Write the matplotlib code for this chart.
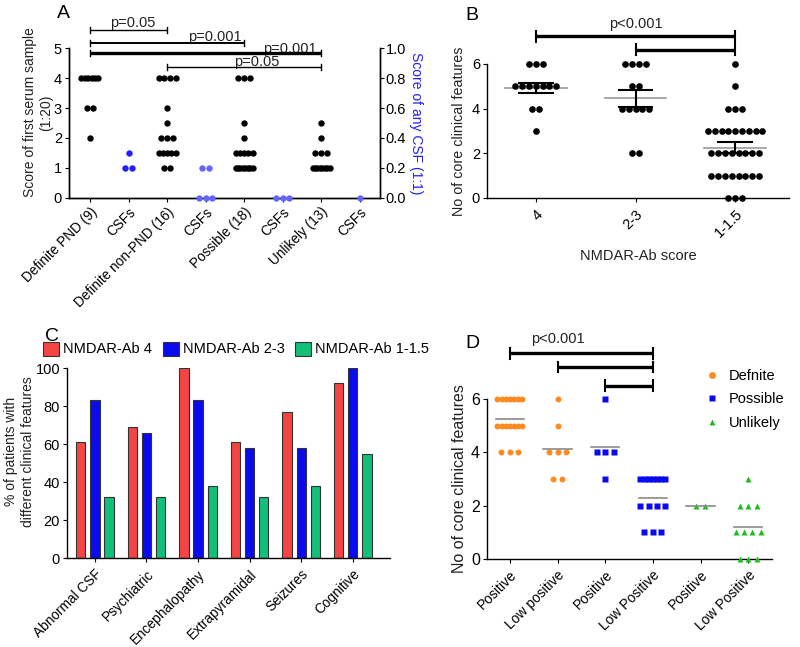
import numpy as np
import matplotlib
matplotlib.use('Agg')
import matplotlib.pyplot as plt
from matplotlib.patches import Patch
from matplotlib.lines import Line2D

plt.rcParams['font.family'] = ['Liberation Sans', 'DejaVu Sans']
plt.rcParams['font.size'] = 9
plt.rcParams['axes.linewidth'] = 1.0
plt.rcParams['xtick.major.size'] = 3
plt.rcParams['ytick.major.size'] = 3

W, H = 800, 647

# ---------------- Data ----------------
# Panel A
a_labels = ['Definite PND (9)', 'CSFs', 'Definite non-PND (16)', 'CSFs',
            'Possible (18)', 'CSFs', 'Unlikely (13)', 'CSFs']
a_def_pnd = [4, 4, 4, 4, 4, 4, 3, 3, 2]
a_def_non = [4, 4, 4, 4, 3, 2.5, 2, 2, 2, 1.5, 1.5, 1.5, 1.5, 1.5, 1, 1]
a_possible = [4, 4, 4, 2.5, 2, 1.5, 1.5, 1.5, 1.5, 1.5, 1, 1, 1, 1, 1, 1, 1, 1]
a_unlikely = [2.5, 2, 1.5, 1.5, 1.5, 1, 1, 1, 1, 1, 1, 1, 1]
a_csf_pnd = [0.3, 0.2, 0.2]
a_csf_non = [0.2, 0.2, 0.0, 0.0, 0.0]
a_csf_pos = [0.0, 0.0, 0.0]
a_csf_unl = [0.0]
a_pvals = ['p=0.05', 'p=0.001', 'p=0.001', 'p=0.05']

# Panel B
b_labels = ['4', '2-3', '1-1.5']
b_score4 = [6, 6, 6, 5, 5, 5, 5, 5, 5, 5, 4, 4, 3]
b_score23 = [6, 6, 6, 6, 5, 5, 4, 4, 4, 4, 4, 2, 2]
b_score115 = [6, 5, 4, 4, 4, 3, 3, 3, 3, 3, 3, 3, 3, 3,
              2, 2, 2, 2, 2, 2, 2, 2, 1, 1, 1, 1, 1, 1, 1, 1, 0, 0, 0]

# Panel C
c_features = ['Abnormal CSF', 'Psychiatric', 'Encephalopathy',
              'Extrapyramidal', 'Seizures', 'Cognitive']
c_series = ['NMDAR-Ab 4', 'NMDAR-Ab 2-3', 'NMDAR-Ab 1-1.5']
c_ab4 = [61, 69, 100, 61, 77, 92]
c_ab23 = [83, 66, 83, 58, 58, 100]
c_ab115 = [32, 32, 38, 32, 38, 55]

# Panel D
d_labels = ['Positive', 'Low positive', 'Positive', 'Low Positive',
            'Positive', 'Low Positive']
d_legend = ['Defnite', 'Possible', 'Unlikely']
d_def_pos = [6, 6, 6, 6, 6, 6, 6, 5, 5, 5, 5, 5, 5, 5, 4, 4, 4]
d_def_low = [6, 5, 4, 4, 4, 3, 3]
d_pos_pos = [6, 4, 4, 4, 3]
d_pos_low = [3, 3, 3, 3, 3, 3, 3, 2, 2, 2, 2, 1, 1, 1]
d_unl_pos = [2, 2]
d_unl_low = [3, 2, 2, 2, 1, 1, 1, 1, 0, 0, 0]


def swarm(values, center, spacing, cap):
    values = np.asarray(values, dtype=float)
    xs = np.zeros_like(values)
    for v in np.unique(values):
        idx = np.where(values == v)[0]
        n = len(idx)
        s = spacing if n == 1 else min(spacing, cap / (n - 1))
        xs[idx] = center + (np.arange(n) - (n - 1) / 2) * s
    return xs, values


def fax(l, r, b, t):
    return fig.add_axes([l / W, 1 - b / H, (r - l) / W, (b - t) / H])


def rot_labels(ax, labels, fs=9):
    ax.set_xticklabels(labels, rotation=45, ha='right', rotation_mode='anchor', fontsize=fs)


TXT = '#222222'
fig = plt.figure(figsize=(8, 6.47), dpi=100)

# ---------------- Panel A ----------------
axA = fax(69, 380, 198, 48)
pxA = 38.5  # px per category
axA.set_xlim(-0.545, 7.53)
axA.set_ylim(0, 5)
axA2 = axA.twinx()
axA2.set_ylim(0, 1.0)
black_groups = [(0, a_def_pnd), (2, a_def_non), (4, a_possible), (6, a_unlikely)]
for pos, vals in black_groups:
    x, y = swarm(vals, pos, 6 / pxA, 17 / pxA)
    axA.plot(x, y, 'o', color='black', ms=4.6, mec='none', clip_on=False, zorder=3)
csf_groups = [(1, a_csf_pnd, '#1f1fff'), (3, a_csf_non, '#6464ff'),
              (5, a_csf_pos, '#6464ff'), (7, a_csf_unl, '#6464ff')]
for pos, vals, col in csf_groups:
    x, y = swarm(vals, pos, 6.5 / pxA, 17 / pxA)
    axA2.plot(x, y, 'o', color=col, ms=4.6, mec='none', clip_on=False, zorder=3)
axA.set_xticks(range(8))
rot_labels(axA, a_labels, 9.8)
axA.set_yticks(range(6))
axA.tick_params(axis='y', labelsize=10.5, pad=2)
axA.tick_params(axis='x', pad=2)
axA2.set_yticks(np.arange(0, 1.01, 0.2))
axA2.set_yticklabels(['%.1f' % v for v in np.arange(0, 1.01, 0.2)], fontsize=10.5)
axA2.tick_params(axis='y', pad=1)
axA.spines['top'].set_visible(False)
axA2.spines['top'].set_visible(False)
axA.set_ylabel('Score of first serum sample\n(1:20)', fontsize=10, color=TXT)
axA.yaxis.set_label_coords(-0.05, 0.57)
axA2.set_ylabel('Score of any CSF (1:1)', rotation=270, color='#2222ee', fontsize=10, labelpad=12)

u = 1 / 30.1
sig_A = [(0, 2, 5.60, 1.0, 1.12, 5.83, a_pvals[0]),
         (0, 4, 5.18, 1.4, 3.25, 5.38, a_pvals[1]),
         (0, 6, 4.84, 2.4, 5.2, 4.98, a_pvals[2]),
         (2, 6, 4.36, 1.0, 4.34, 4.52, a_pvals[3])]
for x0, x1, yy, lw, tx, ty, txt in sig_A:
    axA.plot([x0, x1], [yy, yy], color='black', lw=lw, clip_on=False, zorder=4,
             solid_capstyle='butt')
    for xe in (x0, x1):
        axA.plot([xe, xe], [yy - 3 * u, yy + 3 * u], color='black', lw=1.0, clip_on=False)
    axA.text(tx, ty, txt, ha='center', va='center', fontsize=10.5, color=TXT)

# ---------------- Panel B ----------------
axB = fax(487, 789, 198, 64)
pxB = 99.5
axB.set_xlim(-0.49, 2.54)
axB.set_ylim(0, 6)
for pos, vals in enumerate([b_score4, b_score23, b_score115]):
    x, y = swarm(vals, pos, 6.8 / pxB, 100 / pxB)
    axB.plot(x, y, 'o', color='black', ms=4.8, mec='none', clip_on=False, zorder=3)
    m = np.mean(vals)
    sem = np.std(vals, ddof=1) / np.sqrt(len(vals))
    axB.plot([pos - 0.31, pos + 0.31], [m, m], color='#999999', lw=1.2, zorder=2)
    axB.plot([pos, pos], [m - sem, m + sem], color='black', lw=1.5, zorder=4)
    for yy in (m - sem, m + sem):
        axB.plot([pos - 0.17, pos + 0.17], [yy, yy], color='black', lw=1.5, zorder=4)
axB.set_xticks(range(3))
rot_labels(axB, b_labels, 10.5)
axB.set_yticks([0, 2, 4, 6])
axB.tick_params(axis='y', labelsize=10.5, pad=2)
axB.spines['top'].set_visible(False)
axB.spines['right'].set_visible(False)
axB.set_ylabel('No of core clinical features', fontsize=10.3, labelpad=4, color=TXT)
axB.set_xlabel('NMDAR-Ab score', fontsize=10.5, labelpad=6, color=TXT)
uB = 1 / 22.33
for x0, yy in [(0, 7.25), (1, 6.63)]:
    axB.plot([x0, 2], [yy, yy], color='black', lw=2.4, clip_on=False, solid_capstyle='butt')
    for xe in (x0, 2):
        axB.plot([xe, xe], [yy - 5.5 * uB, yy + 5.5 * uB], color='black', lw=1.5, clip_on=False)
axB.text(1.0, 7.8, 'p<0.001', ha='center', va='center', fontsize=10.5, color=TXT)

# ---------------- Panel C ----------------
axC = fax(67, 390, 558, 368)
axC.set_xlim(-0.54, 5.72)
axC.set_ylim(0, 100)
xc = np.arange(len(c_features))
cols = ['#f44444', '#0a0aee', '#12c07a']
for k, (vals, col, name) in enumerate(zip([c_ab4, c_ab23, c_ab115], cols, c_series)):
    axC.bar(xc + (k - 1) * 0.275, vals, width=0.18, color=col, edgecolor='#333333',
            linewidth=0.8, label=name, zorder=2)
axC.set_xticks(xc)
rot_labels(axC, c_features, 9.8)
axC.set_yticks(range(0, 101, 20))
axC.tick_params(axis='y', labelsize=10.5, pad=2)
axC.spines['top'].set_visible(False)
axC.spines['right'].set_visible(False)
axC.set_ylabel('% of patients with\ndifferent clinical features', fontsize=10, color=TXT)
axC.yaxis.set_label_coords(-0.10, 0.56)
handles = [Patch(facecolor=c, edgecolor='#333333', linewidth=0.8) for c in cols]
fig.legend(handles, c_series, loc='center left', bbox_to_anchor=(43 / W, 1 - 349 / H),
           ncol=3, frameon=False, fontsize=10.5, handlelength=1.1, handleheight=1.1,
           handletextpad=0.3, columnspacing=0.7, borderaxespad=0, borderpad=0)

# ---------------- Panel D ----------------
axD = fax(487, 772, 559, 399)
pxD = 47.6
axD.set_xlim(-0.48, 5.5)
axD.set_ylim(0, 6)
dcols = ['#ff8a1f', '#0a0aee', '#22bb22']
dmk = ['o', 's', '^']
d_groups = [(0, d_def_pos, 0), (1, d_def_low, 0), (2, d_pos_pos, 1),
            (3, d_pos_low, 1), (4, d_unl_pos, 2), (5, d_unl_low, 2)]
for pos, vals, ci in d_groups:
    x, y = swarm(vals, pos, 8.5 / pxD, 25 / pxD)
    axD.plot(x, y, dmk[ci], color=dcols[ci], ms=4.3 if ci == 0 else 4.2, mec='none',
             clip_on=False, zorder=3)
    m = np.mean(vals)
    axD.plot([pos - 0.3, pos + 0.3], [m, m], color='#8a8a8a', lw=1.2, zorder=4)
axD.set_xticks(range(6))
rot_labels(axD, d_labels, 10)
axD.set_yticks([0, 2, 4, 6])
axD.tick_params(axis='y', labelsize=11.5, pad=2)
axD.spines['top'].set_visible(False)
axD.spines['right'].set_visible(False)
axD.set_ylabel('No of core clinical features', fontsize=11.5, labelpad=3, color=TXT)
uD = 1 / 26.67
for x0, yy in [(0, 7.72), (1, 7.2), (2, 6.49)]:
    axD.plot([x0, 3], [yy, yy], color='black', lw=2.4, clip_on=False, solid_capstyle='butt')
    for xe in (x0, 3):
        axD.plot([xe, xe], [yy - 5.5 * uD, yy + 5.5 * uD], color='black', lw=1.5, clip_on=False)
axD.text(1.0, 8.25, 'p<0.001', ha='center', va='center', fontsize=10.5, color=TXT)
lh = [Line2D([], [], ls='none', marker=m, color=c, mec='none', ms=5) for m, c in zip(dmk, dcols)]
fig.legend(lh, d_legend, loc='upper left', bbox_to_anchor=(703 / W, 1 - 369 / H),
           frameon=False, fontsize=10.5, handlelength=1.2, handletextpad=0.6,
           labelspacing=0.65, borderaxespad=0, borderpad=0)

# Panel letters
for txt, x, y in [('A', 57, 13), ('B', 465, 16), ('C', 45, 337), ('D', 465, 343)]:
    fig.text(x / W, 1 - y / H, txt, fontsize=14, ha='left', va='center')

fig.savefig('out.png', dpi=100)
